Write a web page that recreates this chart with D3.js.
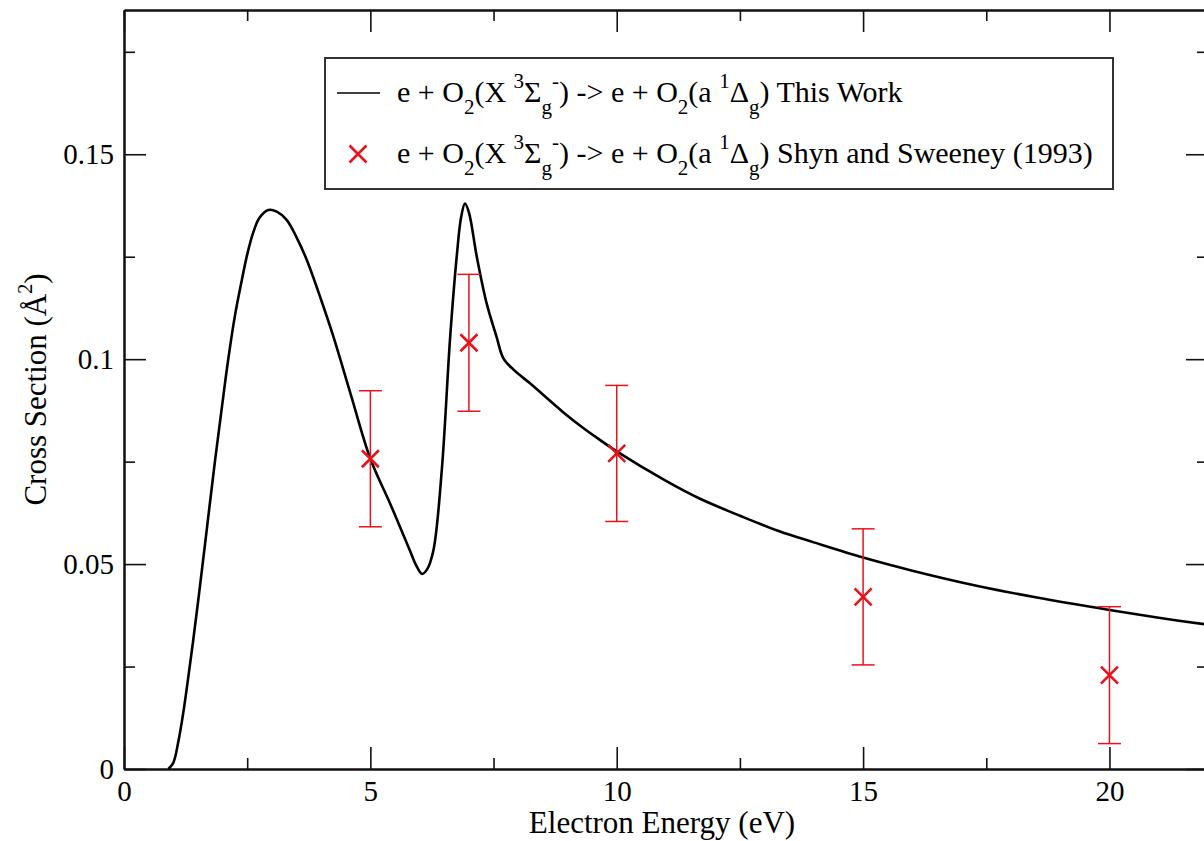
<!DOCTYPE html>
<html>
<head>
<meta charset="utf-8">
<script src="https://cdn.jsdelivr.net/npm/d3@7"></script>
<style>
  body { margin: 0; background: #fff; }
  text { font-family: "Liberation Serif", "Times New Roman", serif; fill: #000; }
</style>
</head>
<body>
<svg></svg>
<script>
// calculated curve (This Work)
var energy = [0.9, 1.0, 1.1, 1.2, 1.3, 1.4, 1.5, 1.63, 1.85, 2.0, 2.11, 2.25, 2.39, 2.5, 2.62,
  2.75, 2.93, 3.1, 3.3, 3.5, 3.71, 4.0, 4.25, 4.6, 5.0, 5.4, 5.8, 5.93, 6.05, 6.15, 6.28, 6.45,
  6.62, 6.76, 6.84, 6.92, 7.0, 7.16, 7.36, 7.56, 7.7, 7.9, 8.24, 8.9, 9.3, 9.6, 10.0, 11.0,
  11.68, 12.5, 13.3, 14.0, 15.0, 16.0, 17.35, 18.5, 20.0, 21.0, 22.0];
var crossSection = [0, 0.0015, 0.0065, 0.0135, 0.022, 0.031, 0.0405, 0.0534, 0.0755, 0.0895,
  0.0995, 0.1105, 0.1192, 0.1255, 0.1308, 0.1345, 0.1364, 0.136, 0.134, 0.1298, 0.1242, 0.1145,
  0.1055, 0.0915, 0.0757, 0.0648, 0.0534, 0.0497, 0.0476, 0.0487, 0.0534, 0.073, 0.1055, 0.126,
  0.1345, 0.138, 0.1358, 0.125, 0.1136, 0.1055, 0.1002, 0.0975, 0.0941, 0.0872, 0.0834, 0.0808,
  0.0775, 0.0703, 0.066, 0.0618, 0.058, 0.0553, 0.0516, 0.0484, 0.0446, 0.0419, 0.0388, 0.0369,
  0.0352];

// Shyn and Sweeney (1993)
var expEnergy = [5, 7, 10, 15, 20];
var expCross = [0.0757, 0.104, 0.077, 0.042, 0.0229];
var expError = [0.0166, 0.0167, 0.0166, 0.0166, 0.0167];

var xTicks = [0, 5, 10, 15, 20];
var xMinorTicks = [2.5, 7.5, 12.5, 17.5];
var yTicks = [0, 0.05, 0.1, 0.15];
var yTickLabels = ["0", "0.05", "0.1", "0.15"];
var yMinorTicks = [0.025, 0.075, 0.125, 0.175];

var width = 1204;
var height = 841;
var plotLeft = 124, plotRight = 1208, plotTop = 10, plotBottom = 769;

var svg = d3.select("svg").attr("width", width).attr("height", height);

var xScale = d3.scaleLinear().domain([0, 22]).range([plotLeft, plotRight]);
var yScale = d3.scaleLinear().domain([0, 0.1852]).range([plotBottom, plotTop]);

/* axes, ticks point into the plot on all four sides */
var drawAxis = (axis, tx, ty, labels) => {
  var g = svg.append("g")
    .attr("transform", "translate(" + tx + "," + ty + ")")
    .call(axis);
  g.select(".domain").attr("stroke", "#111").attr("stroke-width", 2);
  g.selectAll(".tick line").attr("stroke", "#111").attr("stroke-width", 1.6);
  g.selectAll("text").attr("font-size", 29).attr("fill", "#000")
    .style("font-family", "'Liberation Serif', serif");
  if (!labels) g.selectAll("text").remove();
  return g;
};

drawAxis(d3.axisBottom(xScale).tickValues(xTicks).tickFormat(d3.format("d"))
  .tickSize(-22).tickSizeOuter(0).tickPadding(11), 0, plotBottom, true);
drawAxis(d3.axisBottom(xScale).tickValues(xMinorTicks).tickSize(-11).tickSizeOuter(0), 0, plotBottom, false);
drawAxis(d3.axisTop(xScale).tickValues(xTicks).tickSize(-22).tickSizeOuter(0), 0, plotTop, false);
drawAxis(d3.axisTop(xScale).tickValues(xMinorTicks).tickSize(-11).tickSizeOuter(0), 0, plotTop, false);

drawAxis(d3.axisLeft(yScale).tickValues(yTicks).tickFormat((d, i) => yTickLabels[i])
  .tickSize(-22).tickSizeOuter(0).tickPadding(10), plotLeft, 0, true);
drawAxis(d3.axisLeft(yScale).tickValues(yMinorTicks).tickSize(-11).tickSizeOuter(0), plotLeft, 0, false);
drawAxis(d3.axisRight(yScale).tickValues(yTicks).tickSize(-22).tickSizeOuter(0), plotRight, 0, false);
drawAxis(d3.axisRight(yScale).tickValues(yMinorTicks).tickSize(-11).tickSizeOuter(0), plotRight, 0, false);

/* axis titles */
svg.append("text")
  .attr("x", 662)
  .attr("y", 833)
  .attr("text-anchor", "middle")
  .attr("font-size", 31)
  .text("Electron Energy (eV)");

var yTitle = svg.append("text")
  .attr("transform", "translate(46," + (plotTop + plotBottom) / 2 + ") rotate(-90)")
  .attr("text-anchor", "middle")
  .attr("font-size", 31);
yTitle.append("tspan").text("Cross Section (Å");
yTitle.append("tspan").attr("font-size", 20).attr("dy", -14).text("2");
yTitle.append("tspan").attr("dy", 14).text(")");

/* curve */
svg.append("clipPath").attr("id", "plot-clip")
  .append("rect").attr("x", plotLeft).attr("y", plotTop)
  .attr("width", plotRight - plotLeft).attr("height", plotBottom - plotTop);

var line = d3.line()
  .x((d) => xScale(d[0]))
  .y((d) => yScale(d[1]))
  .curve(d3.curveCatmullRom.alpha(0.5));

svg.append("path")
  .datum(energy.map((e, i) => [e, crossSection[i]]))
  .attr("clip-path", "url(#plot-clip)")
  .attr("fill", "none")
  .attr("stroke", "#000")
  .attr("stroke-width", 2.6)
  .attr("d", line);

/* experimental points with error bars */
var red = "#e8121a";
var cap = 11.5;
var xMark = "M-8.5,-8.5L8.5,8.5M-8.5,8.5L8.5,-8.5";

var points = svg.selectAll(".exp")
  .data(expEnergy.map((e, i) => ({ e: e, s: expCross[i], err: expError[i] })))
  .enter()
  .append("g")
  .attr("class", "exp");

points.append("line")
  .attr("x1", (d) => xScale(d.e)).attr("x2", (d) => xScale(d.e))
  .attr("y1", (d) => yScale(d.s + d.err)).attr("y2", (d) => yScale(d.s - d.err))
  .attr("stroke", red).attr("stroke-width", 1.5);
points.append("line")
  .attr("x1", (d) => xScale(d.e) - cap).attr("x2", (d) => xScale(d.e) + cap)
  .attr("y1", (d) => yScale(d.s + d.err)).attr("y2", (d) => yScale(d.s + d.err))
  .attr("stroke", red).attr("stroke-width", 1.5);
points.append("line")
  .attr("x1", (d) => xScale(d.e) - cap).attr("x2", (d) => xScale(d.e) + cap)
  .attr("y1", (d) => yScale(d.s - d.err)).attr("y2", (d) => yScale(d.s - d.err))
  .attr("stroke", red).attr("stroke-width", 1.5);
points.append("path")
  .attr("d", xMark)
  .attr("transform", (d) => "translate(" + xScale(d.e) + "," + yScale(d.s) + ")")
  .attr("stroke", red).attr("stroke-width", 2.6).attr("fill", "none");

/* legend */
var legend = svg.append("g");
legend.append("rect")
  .attr("x", 325).attr("y", 58).attr("width", 788).attr("height", 131)
  .attr("fill", "#fff").attr("stroke", "#333").attr("stroke-width", 2);

legend.append("line")
  .attr("x1", 337).attr("x2", 380).attr("y1", 93).attr("y2", 93)
  .attr("stroke", "#000").attr("stroke-width", 1.6);
legend.append("path")
  .attr("d", xMark)
  .attr("transform", "translate(358,154)")
  .attr("stroke", red).attr("stroke-width", 2.6).attr("fill", "none");

// pieces: [text, level] where level 0 = normal, 1 = superscript, -1 = subscript
var reaction = [["e + O", 0], ["2", -1], ["(X ", 0], ["3", 1], ["Σ", 0], ["g", -1], ["-", 1],
  [") -> e + O", 0], ["2", -1], ["(a ", 0], ["1", 1], ["Δ", 0], ["g", -1], [")", 0]];

var legendText = (y, tail) => {
  var t = legend.append("text").attr("x", 397).attr("y", y).attr("font-size", 30);
  var shift = 0;
  reaction.concat([[tail, 0]]).forEach((p) => {
    var target = p[1] === 1 ? -14 : p[1] === -1 ? 12 : 0;
    t.append("tspan")
      .attr("dy", target - shift)
      .attr("font-size", p[1] === 0 ? 30 : 21)
      .text(p[0]);
    shift = target;
  });
};
legendText(102, " This Work");
legendText(163, " Shyn and Sweeney (1993)");
</script>
</body>
</html>
